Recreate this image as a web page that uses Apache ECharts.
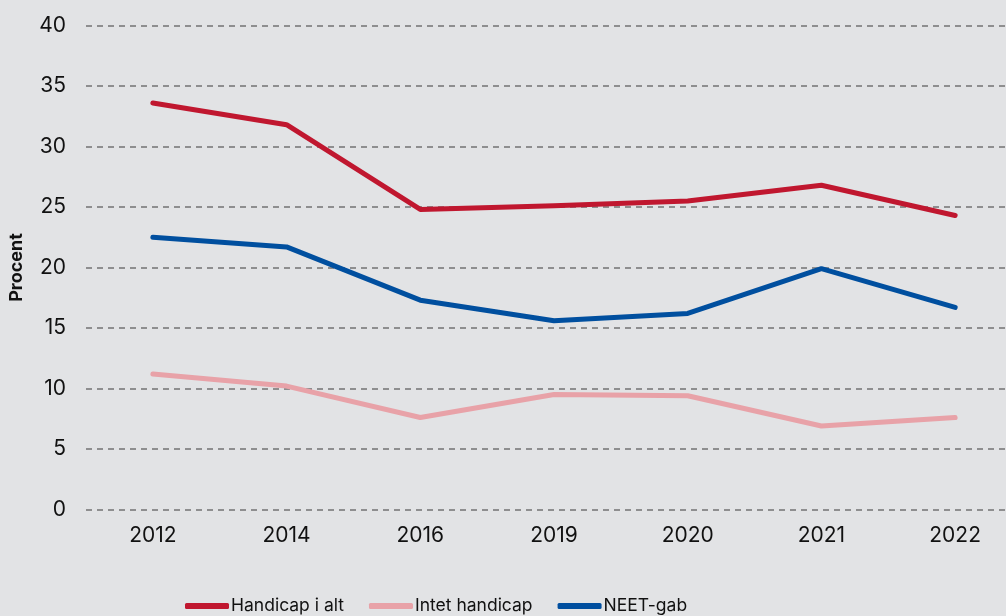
<!DOCTYPE html>
<html>
<head>
<meta charset="utf-8">
<script src="https://cdn.jsdelivr.net/npm/echarts@6/dist/echarts.min.js"></script>
<style>
html,body{margin:0;padding:0;background:#E2E3E5;}
#c{width:1006px;height:616px;}
</style>
</head>
<body>
<div id="c"></div>
<script>
const categories = ['2012','2014','2016','2019','2020','2021','2022'];
const handicapIAlt = [33.6, 31.8, 24.8, 25.1, 25.5, 26.8, 24.3];
const intetHandicap = [11.2, 10.2, 7.6, 9.5, 9.4, 6.9, 7.6];
const neetGab = [22.5, 21.7, 17.3, 15.6, 16.2, 19.9, 16.7];
const seriesNames = ['Handicap i alt', 'Intet handicap', 'NEET-gab'];
const colors = ['#C0172F', '#E8A2A8', '#004F9F'];

const chart = echarts.init(document.getElementById('c'), null, {renderer: 'canvas'});
const font = 'Inter, "Noto Sans", sans-serif';
chart.setOption({
  backgroundColor: '#E2E3E5',
  animation: false,
  color: colors,
  grid: {left: 86, width: 936, top: 25.5, height: 484, outerBoundsMode: 'none', containLabel: false},
  legend: {
    top: 597,
    left: 185,
    padding: 0,
    itemWidth: 44,
    itemHeight: 6,
    itemGap: 25,
    icon: 'roundRect',
    textStyle: {fontFamily: font, fontSize: 17.5, color: '#111', padding: [0,0,0,-3]},
    data: seriesNames
  },
  xAxis: {
    type: 'category',
    data: categories,
    boundaryGap: true,
    axisLine: {show: false},
    axisTick: {show: false},
    axisLabel: {fontFamily: font, fontSize: 21, color: '#111', margin: 16}
  },
  yAxis: {
    type: 'value',
    min: 0, max: 40, interval: 5,
    name: 'Procent',
    nameLocation: 'middle',
    nameGap: 60,
    nameTextStyle: {fontFamily: font, fontSize: 18, fontWeight: 'bold', color: '#111'},
    axisLine: {show: false},
    axisTick: {show: false},
    axisLabel: {fontFamily: font, fontSize: 21, color: '#111', margin: 20},
    splitLine: {lineStyle: {color: '#737373', type: [6, 5], width: 1.5}}
  },
  series: [
    {name: seriesNames[0], type: 'line', data: handicapIAlt, symbol: 'none', lineStyle: {width: 5, cap: 'round', join: 'round'}},
    {name: seriesNames[1], type: 'line', data: intetHandicap, symbol: 'none', lineStyle: {width: 5, cap: 'round', join: 'round'}},
    {name: seriesNames[2], type: 'line', data: neetGab, symbol: 'none', lineStyle: {width: 5, cap: 'round', join: 'round'}}
  ]
});
</script>
</body>
</html>
